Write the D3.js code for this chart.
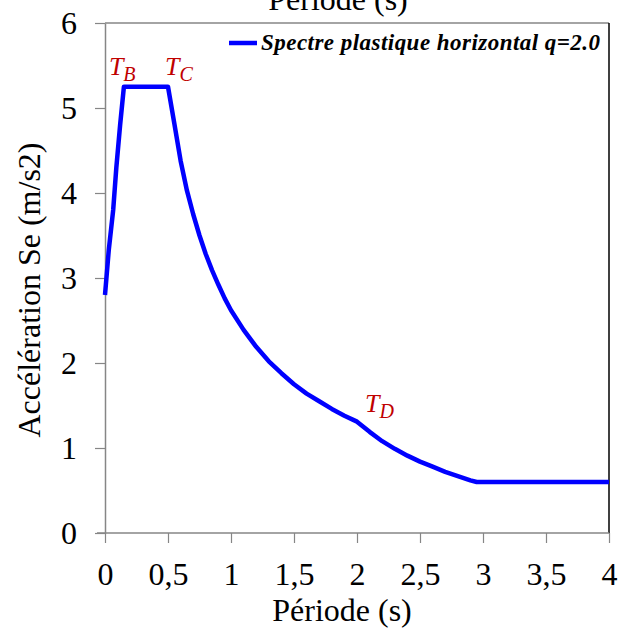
<!DOCTYPE html>
<html>
<head>
<meta charset="utf-8">
<script src="https://cdn.jsdelivr.net/npm/d3@7"></script>
<style>
body { margin: 0; background: #fff; }
svg { display: block; }
text { font-family: "Liberation Serif", "Times New Roman", serif; }
</style>
</head>
<body>
<div id="chart"></div>
<script>
// periods (s) and plastic horizontal spectrum values (m/s2)
var periods = [0, 0.03, 0.065, 0.09, 0.12, 0.15, 0.5, 0.55, 0.6, 0.65, 0.7, 0.75, 0.8, 0.85, 0.9, 0.95,
    1.0, 1.1, 1.2, 1.3, 1.4, 1.5, 1.6, 1.7, 1.8, 1.9, 2.0, 2.1, 2.2, 2.3, 2.4, 2.5, 2.6, 2.7, 2.8, 2.9, 2.95, 4.0];
var accel = [2.8, 3.33, 3.8, 4.3, 4.8, 5.25, 5.25, 4.82, 4.38, 4.03, 3.75, 3.5, 3.28, 3.09, 2.92, 2.76,
    2.62, 2.39, 2.19, 2.02, 1.88, 1.75, 1.64, 1.55, 1.46, 1.38, 1.31, 1.19, 1.08, 0.99, 0.91, 0.84, 0.78, 0.72, 0.67, 0.62, 0.6, 0.6];

var xTicks = [0, 0.5, 1, 1.5, 2, 2.5, 3, 3.5, 4];
var yTicks = [0, 1, 2, 3, 4, 5, 6];

// corner periods labels
var cornerNames = ["B", "C", "D"];
var cornerT = [0.15, 0.5, 2.0];
var cornerSe = [5.25, 5.25, 1.31];

var width = 618, height = 630;
var margin = {top: 23, right: 9, bottom: 97, left: 105};

var svg = d3.select("#chart").append("svg")
    .attr("width", width)
    .attr("height", height);

var x = d3.scaleLinear().domain([0, 4]).range([margin.left, width - margin.right]);
var y = d3.scaleLinear().domain([0, 6]).range([height - margin.bottom, margin.top]);

var serif = "Liberation Serif";

// frame: grey top, black right
svg.append("line")
    .attr("x1", x(0)).attr("x2", x(4))
    .attr("y1", y(6)).attr("y2", y(6))
    .attr("stroke", "#868686").attr("stroke-width", 1.5);
svg.append("line")
    .attr("x1", x(4)).attr("x2", x(4))
    .attr("y1", y(6)).attr("y2", y(0))
    .attr("stroke", "#000").attr("stroke-width", 1.5);

// x axis
var xAxis = svg.append("g")
    .attr("transform", "translate(0," + y(0) + ")")
    .call(d3.axisBottom(x).tickValues(xTicks).tickSize(10).tickSizeOuter(0)
        .tickFormat(function(d) { return String(d).replace(".", ","); }));
xAxis.select(".domain").attr("stroke", "#868686").attr("stroke-width", 1.5)
    .attr("d", "M" + (x(0) - 8) + ",0H" + x(4));
xAxis.selectAll(".tick line").attr("stroke", "#868686").attr("stroke-width", 1.2);
xAxis.selectAll(".tick text")
    .attr("y", 52).attr("dy", null)
    .attr("font-family", serif).attr("font-size", "32px").attr("fill", "#000");

// y axis
var yAxis = svg.append("g")
    .attr("transform", "translate(" + x(0) + ",0)")
    .call(d3.axisLeft(y).tickValues(yTicks).tickSize(10).tickSizeOuter(0)
        .tickFormat(function(d) { return String(d); }));
yAxis.select(".domain").attr("stroke", "#868686").attr("stroke-width", 1.5);
yAxis.selectAll(".tick line").attr("stroke", "#868686").attr("stroke-width", 1.2);
yAxis.selectAll(".tick text")
    .attr("x", -28).attr("dy", "0.34em")
    .attr("font-family", serif).attr("font-size", "32px").attr("fill", "#000");

// axis titles
svg.append("text")
    .attr("x", 342).attr("y", 621)
    .attr("text-anchor", "middle")
    .attr("font-family", serif).attr("font-size", "32px")
    .text("Période (s)");

// same title repeated above the plot, mostly cut off
svg.append("text")
    .attr("x", 338).attr("y", 10)
    .attr("text-anchor", "middle")
    .attr("font-family", serif).attr("font-size", "32px")
    .text("Période (s)");

svg.append("text")
    .attr("transform", "translate(40,290) rotate(-90)")
    .attr("text-anchor", "middle")
    .attr("font-family", serif).attr("font-size", "32px")
    .text("Accélération Se (m/s2)");

// spectrum line
var line = d3.line()
    .x(function(d, i) { return x(periods[i]); })
    .y(function(d) { return y(d); });

svg.append("path")
    .datum(accel)
    .attr("fill", "none")
    .attr("stroke", "#0000ff")
    .attr("stroke-width", 4.5)
    .attr("stroke-linejoin", "round")
    .attr("d", line);

// legend
svg.append("line")
    .attr("x1", 229).attr("x2", 257)
    .attr("y1", 43).attr("y2", 43)
    .attr("stroke", "#0000ff").attr("stroke-width", 4.5);
svg.append("text")
    .attr("x", 261).attr("y", 50)
    .attr("font-family", serif).attr("font-size", "23px")
    .attr("font-style", "italic").attr("font-weight", "bold")
    .attr("textLength", 339)
    .text("Spectre plastique horizontal q=2.0");

// T_B, T_C, T_D labels
var cornerDx = [-15, -3, 8];
var cornerDy = [-12, -12, -10];
cornerNames.forEach(function(n, i) {
    var t = svg.append("text")
        .attr("x", x(cornerT[i]) + cornerDx[i])
        .attr("y", y(cornerSe[i]) + cornerDy[i])
        .attr("font-family", serif).attr("font-size", "26px")
        .attr("font-style", "italic").attr("fill", "#c00000");
    t.append("tspan").text("T");
    t.append("tspan").attr("dy", 6).attr("font-size", "20px").text(n);
});
</script>
</body>
</html>
